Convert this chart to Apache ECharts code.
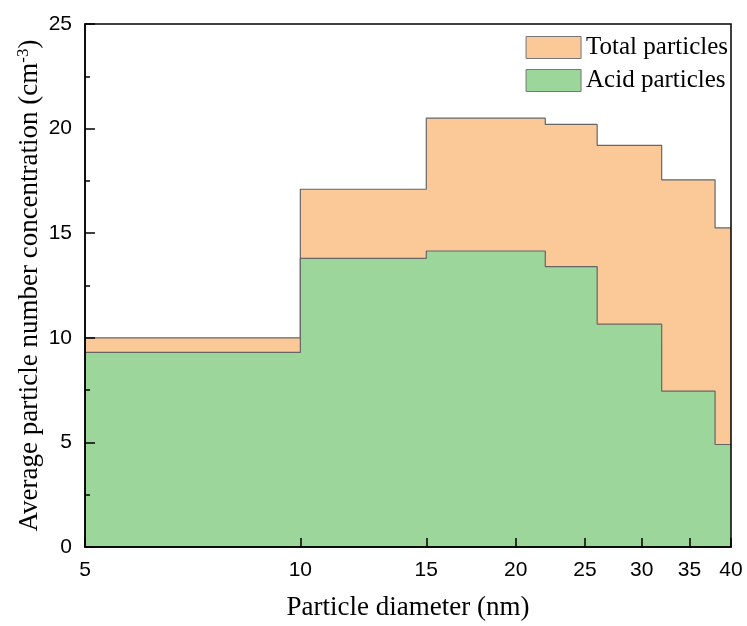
<!DOCTYPE html>
<html lang="en">
<head>
    <meta charset="UTF-8">
    <title>Particle concentration</title>
    <style>
        html, body { margin: 0; padding: 0; background: #fff; }
        #chart { width: 747px; height: 626px; }
    </style>
</head>
<body>
    <div id="chart"></div>
    <script src="https://cdn.jsdelivr.net/npm/echarts@6/dist/echarts.min.js"></script>
    <script>
        // left bin edges (nm), last entry closes the final bin
        var binEdges = [5, 10, 15, 22, 26, 32, 38, 40];
        var totalValues = [10.0, 17.1, 20.5, 20.2, 19.2, 17.55, 15.25];
        var acidValues = [9.3, 13.8, 14.15, 13.4, 10.65, 7.45, 4.9];
        var xTicks = [5, 10, 15, 20, 25, 30, 35, 40];
        var seriesNames = ['Total particles', 'Acid particles'];

        function steps(vals) {
            var out = [];
            for (var i = 0; i < vals.length; i++) out.push([binEdges[i], vals[i]]);
            out.push([binEdges[binEdges.length - 1], vals[vals.length - 1]]);
            return out;
        }

        var serif = 'Liberation Serif';
        var sans = 'Liberation Sans';
        var chart = echarts.init(document.getElementById('chart'));
        chart.setOption({
            animation: false,
            grid: {
                left: 85, right: 16, top: 24, bottom: 78,
                show: true, borderColor: '#000', borderWidth: 1.5, z: 10
            },
            legend: {
                right: 14, top: 30,
                orient: 'vertical',
                itemWidth: 55, itemHeight: 22, itemGap: 8,
                icon: 'rect',
                textStyle: { fontFamily: serif, fontSize: 25, color: '#000' },
                data: [
                    { name: seriesNames[0], itemStyle: { color: '#fbc898', borderColor: '#777', borderWidth: 1 } },
                    { name: seriesNames[1], itemStyle: { color: '#9dd69b', borderColor: '#777', borderWidth: 1 } }
                ]
            },
            xAxis: {
                type: 'log', logBase: 10, min: 5, max: 40,
                z: 10,
                name: 'Particle diameter (nm)',
                nameLocation: 'middle', nameGap: 47,
                nameTextStyle: { fontFamily: serif, fontSize: 27, color: '#000' },
                axisLine: { lineStyle: { color: '#000', width: 1.5 } },
                axisTick: { inside: true, length: 9, lineStyle: { color: '#000', width: 1.5 }, customValues: xTicks },
                axisLabel: { customValues: xTicks, margin: 13, fontFamily: sans, fontSize: 21, color: '#000' },
                splitLine: { show: false },
                minorTick: { show: false }
            },
            yAxis: {
                type: 'value', min: 0, max: 25, interval: 5,
                z: 10,
                name: '{a|Average particle number concentration (cm}{s|-3}{a|)}',
                nameLocation: 'middle', nameGap: 41, nameMoveOverlap: false,
                nameTextStyle: {
                    rich: {
                        a: { fontFamily: serif, fontSize: 27, color: '#000' },
                        s: { fontFamily: serif, fontSize: 17, color: '#000', padding: [0, 0, 12, 0] }
                    }
                },
                axisLine: { show: true, lineStyle: { color: '#000', width: 1.5 } },
                axisTick: { show: true, inside: true, length: 10, lineStyle: { color: '#000', width: 1.5 } },
                minorTick: { show: true, splitNumber: 2, length: 5, lineStyle: { color: '#000', width: 1.5 } },
                axisLabel: { margin: 13, fontFamily: sans, fontSize: 21, color: '#000' },
                splitLine: { show: false }
            },
            series: [
                {
                    name: seriesNames[0], type: 'line', step: 'end',
                    data: steps(totalValues), symbol: 'none',
                    color: '#fbc898',
                    lineStyle: { color: '#666', width: 1.2 },
                    areaStyle: { color: '#fbc898', opacity: 1 },
                    z: 2
                },
                {
                    name: seriesNames[1], type: 'line', step: 'end',
                    data: steps(acidValues), symbol: 'none',
                    color: '#9dd69b',
                    lineStyle: { color: '#666', width: 1.2 },
                    areaStyle: { color: '#9dd69b', opacity: 1 },
                    z: 3
                }
            ]
        });
    </script>
</body>
</html>
